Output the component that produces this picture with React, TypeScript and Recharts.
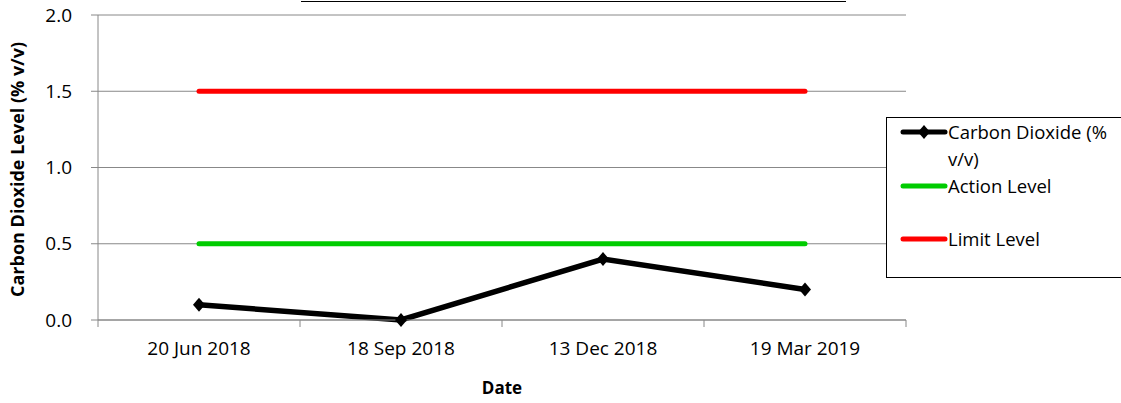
import React from 'react';
import { LineChart, Line, XAxis, YAxis, CartesianGrid } from 'recharts';

const dates = ['20 Jun 2018', '18 Sep 2018', '13 Dec 2018', '19 Mar 2019'];
const co2Values = [0.1, 0.0, 0.4, 0.2];
const actionLevel = [0.5, 0.5, 0.5, 0.5];
const limitLevel = [1.5, 1.5, 1.5, 1.5];
const yTicks = [0, 0.5, 1.0, 1.5, 2.0];

const data = dates.map((date, i) => ({
  date,
  co2: co2Values[i],
  action: actionLevel[i],
  limit: limitLevel[i],
}));

const FONT = '"Open Sans", "Noto Sans", sans-serif';
const W = 1121;
const H = 403;
const M = { top: 15, right: 215, bottom: 0, left: 0 };
const Y_W = 98;
const X_H = 83;
const PLOT_W = W - M.left - M.right - Y_W;
const BAND = PLOT_W / dates.length;

const legendItems = [
  { name: 'Carbon Dioxide (% v/v)', color: '#000000', marker: true },
  { name: 'Action Level', color: '#00CC00', marker: false },
  { name: 'Limit Level', color: '#FF0000', marker: false },
];

const Diamond = (props: any) => {
  const { cx, cy } = props;
  if (cx == null || cy == null) return null;
  return <path d={`M${cx},${cy - 7}L${cx + 6},${cy}L${cx},${cy + 7}L${cx - 6},${cy}Z`} fill="#000" />;
};

const DateTick = (props: any) => {
  const { x, y, payload, index } = props;
  const left = x - BAND / 2;
  return (
    <g>
      <line x1={left} y1={y - 8} x2={left} y2={y - 1} stroke="#888" />
      {index === dates.length - 1 && (
        <line x1={left + BAND} y1={y - 8} x2={left + BAND} y2={y - 1} stroke="#888" />
      )}
      <text x={x} y={y + 27} textAnchor="middle" fill="#000" fontSize={19} fontFamily={FONT}>
        {payload.value}
      </text>
    </g>
  );
};

const LegendBox = () => (
  <div
    style={{
      position: 'absolute',
      left: 886,
      top: 117,
      width: 240,
      height: 161,
      border: '1.5px solid #000',
      background: '#fff',
      fontFamily: FONT,
      fontSize: 18.5,
      color: '#000',
      boxSizing: 'border-box',
    }}
  >
    {legendItems.map((item, i) => (
      <div
        key={item.name}
        style={{
          position: 'absolute',
          left: 13,
          top: [1, 55, 108][i],
          display: 'flex',
          alignItems: 'flex-start',
        }}
      >
        <svg width={48} height={26} style={{ flexShrink: 0 }}>
          <line x1={3} y1={13} x2={45} y2={13} stroke={item.color} strokeWidth={5} strokeLinecap="round" />
          {item.marker && <path d="M24,6L30,13L24,20L18,13Z" fill="#000" />}
        </svg>
        <div style={{ width: 168, lineHeight: '27px', marginTop: -1 }}>{item.name}</div>
      </div>
    ))}
  </div>
);

const App: React.FC = () => {
  return (
    <div style={{ position: 'absolute', left: 0, top: 0, width: W, height: H, background: '#fff', overflow: 'hidden' }}>
      <div style={{ position: 'absolute', left: 301, top: 0, width: 545, height: 1, borderBottom: '1.5px solid #000' }} />
      <LineChart width={W} height={H} data={data} margin={M}>
        <CartesianGrid vertical={false} stroke="#888" />
        <XAxis
          dataKey="date"
          scale="band"
          height={X_H}
          axisLine={{ stroke: '#888' }}
          tickLine={false}
          tick={<DateTick />}
          interval={0}
          label={{ value: 'Date', position: 'insideBottom', offset: 9, fill: '#000', fontSize: 17, fontWeight: 'bold', fontFamily: FONT }}
        />
        <YAxis
          width={Y_W}
          domain={[0, 2]}
          ticks={yTicks}
          tickFormatter={(v: number) => v.toFixed(1)}
          axisLine={{ stroke: '#888' }}
          tickLine={{ stroke: '#888' }}
          tickSize={7}
          tickMargin={19}
          tick={{ fill: '#000', fontSize: 19, fontFamily: FONT }}
          label={(p: any) => {
            const vb = p.viewBox;
            const cy = vb.y + vb.height / 2 + 2;
            return (
              <text
                x={17}
                y={cy}
                transform={`rotate(-90, 17, ${cy})`}
                textAnchor="middle"
                dominantBaseline="central"
                fill="#000"
                fontSize={18}
                fontWeight="bold"
                fontFamily={FONT}
              >
                Carbon Dioxide Level (% v/v)
              </text>
            );
          }}
        />
        <Line dataKey="limit" name="Limit Level" stroke="#FF0000" strokeWidth={5} dot={false} strokeLinecap="round" isAnimationActive={false} />
        <Line dataKey="action" name="Action Level" stroke="#00CC00" strokeWidth={5} dot={false} strokeLinecap="round" isAnimationActive={false} />
        <Line dataKey="co2" name="Carbon Dioxide (% v/v)" stroke="#000" strokeWidth={5.5} dot={<Diamond />} isAnimationActive={false} />
      </LineChart>
      <LegendBox />
    </div>
  );
};

export default App;
